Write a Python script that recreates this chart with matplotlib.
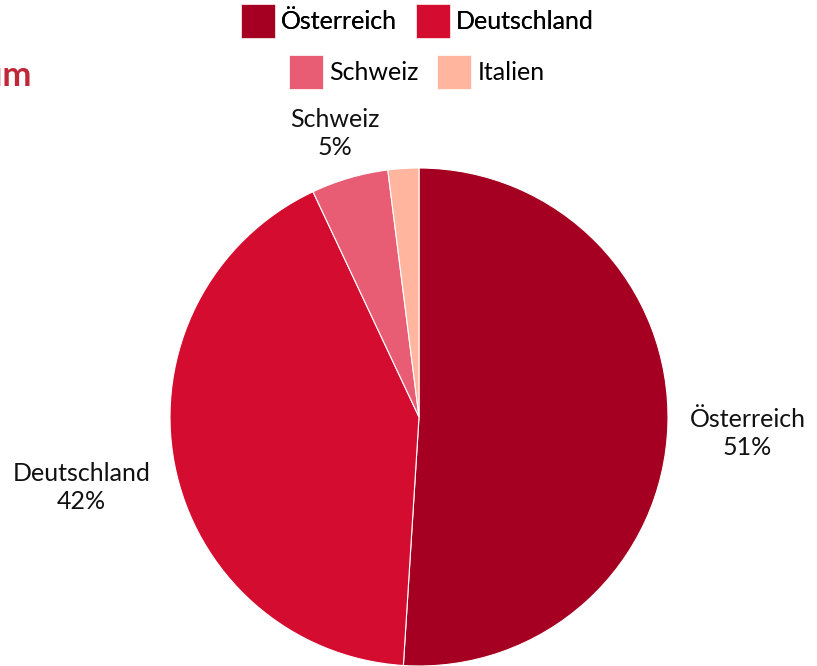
import matplotlib.pyplot as plt
import matplotlib.patches as mpatches
import numpy as np

plt.rcParams['font.family'] = ['Lato', 'DejaVu Sans']

# Anteile nach Herkunftsland
laender = ['Österreich', 'Deutschland', 'Schweiz', 'Italien']
anteile = [51, 42, 5, 2]
farben = ['#A50021', '#D40D30', '#E85C74', '#FFB59E']
# label distance per slice (Excel places them differently)
label_dist = [1.32, 1.38, 1.21, 1.3]

fig = plt.figure(figsize=(8.17, 6.66), dpi=100)
ax = fig.add_axes([0, 0, 1, 1])

wedges, _ = ax.pie(anteile, colors=farben, startangle=90, counterclock=False,
                   center=(419, 249), radius=249,
                   wedgeprops=dict(edgecolor='white', linewidth=0.8))
ax.set_xlim(0, 817)
ax.set_ylim(0, 666)
ax.set_aspect('equal')
ax.axis('off')

fs = 18

# labels outside the pie, skip Italien (no label in original)
for i, w in enumerate(wedges):
    if laender[i] == 'Italien':
        continue
    ang = np.deg2rad((w.theta1 + w.theta2) / 2)
    x = 419 + 249 * label_dist[i] * np.cos(ang)
    y = 249 + 249 * label_dist[i] * np.sin(ang) - 6
    ax.text(x, y, '%s\n%d%%' % (laender[i], anteile[i]), ha='center', va='center',
            fontsize=fs, color='#111111', linespacing=1.25)

# title (cut off at left edge in original)
fig.text(31 / 817, 1 - 76 / 666, 'Gäste nach Herkunft im Zeitraum', ha='right', va='center',
         fontsize=25, fontweight='bold', color='#C0283A')

handles = [mpatches.Patch(facecolor=c, edgecolor='white', linewidth=0.5) for c in farben]
leg1 = fig.legend(handles[:2], laender[:2], loc='center', ncol=2,
                  bbox_to_anchor=(417.5 / 817, 1 - 21 / 666), frameon=False,
                  fontsize=fs, handlelength=1.35, handleheight=1.7,
                  handletextpad=0.25, columnspacing=0.75, borderpad=0)
fig.add_artist(leg1)
fig.legend(handles[2:], laender[2:], loc='center', ncol=2,
           bbox_to_anchor=(417 / 817, 1 - 72 / 666), frameon=False,
           fontsize=fs, handlelength=1.35, handleheight=1.7,
           handletextpad=0.25, columnspacing=0.75, borderpad=0)

plt.savefig('out.png', dpi=100)
